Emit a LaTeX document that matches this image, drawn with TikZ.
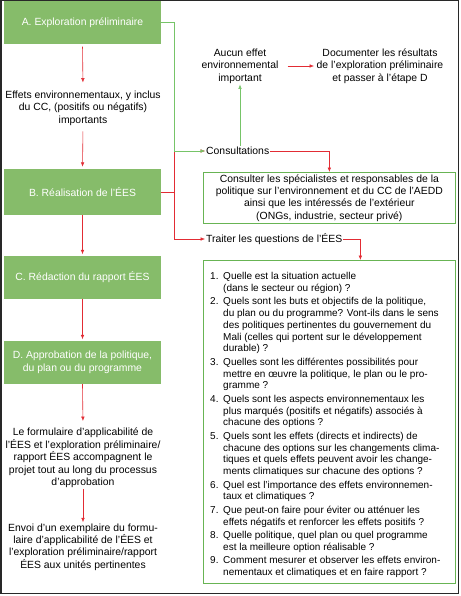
\documentclass[tikz,border=0pt]{standalone}
\usepackage{fontspec}
\setmainfont{Liberation Sans}
\usetikzlibrary{arrows.meta}
\definecolor{boxgreen}{RGB}{134,188,106}
\definecolor{linegreen}{RGB}{118,196,104}
\definecolor{bordergreen}{RGB}{104,180,84}
\definecolor{arrred}{RGB}{226,44,52}
\definecolor{framegray}{RGB}{40,40,40}
\begin{document}
\begin{tikzpicture}[x=1pt,y=-1pt,
  stepbox/.style={fill=boxgreen, draw=none, minimum width=157pt, minimum height=43pt, text=white, font=\fontsize{10.4}{12.4}\selectfont, align=center, inner sep=0pt},
  txt/.style={font=\fontsize{10.4}{12.4}\selectfont, align=center, inner sep=1pt},
  framebox/.style={draw=bordergreen, line width=0.7pt, minimum width=252pt, anchor=north west},
  redarrow/.style={draw=arrred, line width=0.6pt, -{Latex[length=4.5pt,width=3.6pt]}},
  greenarrow/.style={draw=linegreen, line width=0.6pt, -{Latex[length=4.5pt,width=3.6pt]}},
]
\useasboundingbox (0,0) rectangle (460,596);
\draw[framegray, line width=1.3pt] (1,0.7) rectangle (458.3,593.3);

% left column
\node[stepbox, minimum height=42.5pt] (A) at (82.5,22.75) {A. Exploration préliminaire};
\node[txt] (effets) at (83,108) {Effets environnementaux, y inclus\\du CC, (positifs ou négatifs)\\importants};
\node[stepbox, minimum height=46pt] (B) at (82.5,192) {B. Réalisation de l'ÉES};
\node[stepbox] (C) at (82.5,277.5) {C. Rédaction du rapport ÉES};
\node[stepbox] (D) at (82.5,362.5) {D. Approbation de la politique,\\du plan ou du programme};
\node[txt] (form) at (83,458) {Le formulaire d'applicabilité de\\l'ÉES et l'exploration préliminaire/\\rapport ÉES accompagnent le\\projet tout au long du processus\\d'approbation};
\node[txt] (envoi) at (83,547) {Envoi d'un exemplaire du formu-\\laire d'applicabilité de l'ÉES et\\l'exploration préliminaire/rapport\\ÉES aux unités pertinentes};

% right column
\node[txt] (aucun) at (240,66) {Aucun effet\\environnemental\\important};
\node[txt] (doc) at (380,66) {Documenter les résultats\\de l'exploration préliminaire\\et passer à l'étape D};
\node[txt, anchor=west] (consult) at (205,151) {Consultations};
\node[framebox, txt, minimum height=51pt, inner sep=1pt] (cbox) at (203,172) {Consulter les spécialistes et responsables de la\\politique sur l'environnement et du CC de l'AEDD\\ainsi que les intéressés de l'extérieur\\(ONGs, industrie, secteur privé)};
\node[txt, anchor=west] (traiter) at (205,239) {Traiter les questions de l'ÉES};
\node[framebox, minimum height=323pt, inner sep=0pt] (list) at (203,260) {};
\node[anchor=base west, inner sep=0pt, font=\fontsize{10}{11.8}\selectfont] (listtxt) at ([xshift=7pt, yshift=-19.5pt]list.north west) {%
\begin{tabular}[t]{@{}l@{\hspace{4.7pt}}l@{}}
1. & Quelle est la situation actuelle\\
 & (dans le secteur ou région) ?\\[1.6pt]
2. & Quels sont les buts et objectifs de la politique,\\
 & du plan ou du programme? Vont-ils dans le sens\\
 & des politiques pertinentes du gouvernement du\\
 & Mali (celles qui portent sur le développement\\
 & durable) ?\\[1.6pt]
3. & Quelles sont les différentes possibilités pour\\
 & mettre en œuvre la politique, le plan ou le pro-\\
 & gramme ?\\[1.6pt]
4. & Quels sont les aspects environnementaux les\\
 & plus marqués (positifs et négatifs) associés à\\
 & chacune des options ?\\[1.6pt]
5. & Quels sont les effets (directs et indirects) de\\
 & chacune des options sur les changements clima-\\
 & tiques et quels effets peuvent avoir les change-\\
 & ments climatiques sur chacune des options ?\\[1.6pt]
6. & Quel est l'importance des effets environnemen-\\
 & taux et climatiques ?\\[1.6pt]
7. & Que peut-on faire pour éviter ou atténuer les\\
 & effets négatifs et renforcer les effets positifs ?\\[1.6pt]
8. & Quelle politique, quel plan ou quel programme\\
 & est la meilleure option réalisable ?\\[1.6pt]
9. & Comment mesurer et observer les effets environ-\\
 & nementaux et climatiques et en faire rapport ?
\end{tabular}};

% left connectors
\draw[redarrow, shorten <=2.5pt, shorten >=7pt] (A.south) -- (effets.north);
\draw[redarrow, shorten <=5pt, shorten >=2pt] (effets.south) -- (B.north);
\draw[redarrow, shorten >=1.5pt] (B.south) -- (C.north);
\draw[redarrow, shorten >=1.5pt] (C.south) -- (D.north);
\draw[redarrow, shorten >=6pt] (D.south) -- (form.north);
\draw[redarrow] (form.south) -- (envoi.north);

% right connectors
\draw[redarrow] (B.east) -- ++(13,0) |- (traiter.west);
\draw[redarrow] (B.east) -- ++(13,0) |- (consult.west);
\draw[greenarrow] (A.east) -- ++(13,0) |- (consult.west);
\draw[greenarrow] (consult.north -| aucun.south) -- (aucun.south);
\draw[redarrow, shorten <=8pt, shorten >=1.5pt] (aucun.east) -- (doc.west);
\draw[redarrow] (consult.east) -| (cbox.north);
\draw[redarrow] (traiter.east) -| ([xshift=31pt]list.north);
\end{tikzpicture}
\end{document}
